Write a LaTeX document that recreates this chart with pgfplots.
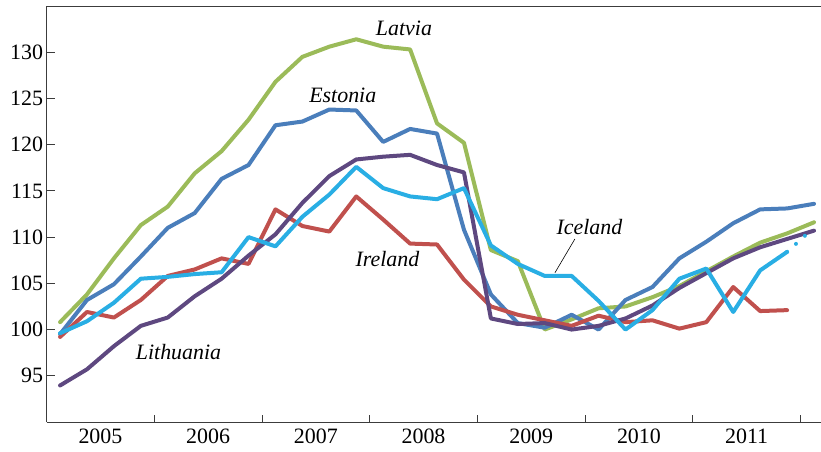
\documentclass[border=0pt]{standalone}
\usepackage{fontspec}
\setmainfont{Liberation Serif}
\usepackage{pgfplots}
\pgfplotsset{compat=1.18}
\definecolor{cLat}{RGB}{155,187,89}
\definecolor{cEst}{RGB}{74,126,187}
\definecolor{cIre}{RGB}{192,80,77}
\definecolor{cLit}{RGB}{94,72,128}
\definecolor{cIce}{RGB}{41,174,228}
\definecolor{axc}{RGB}{60,60,60}
\begin{document}
\begin{tikzpicture}
\begin{axis}[
 scale only axis, width=774.4bp, height=416bp,
 xmin=2005, xmax=2012.19, ymin=90, ymax=135,
 axis x line=box, axis y line=left,
 axis line style={draw=axc, line width=0.9bp},
 y axis line style={-},
 ytick={95,100,...,130},
 xtick={2005.5,2006.5,...,2011.5},
 xticklabels={2005,2006,2007,2008,2009,2010,2011},
 minor xtick={2006,2007,...,2012},
 major x tick style={draw=none},
 minor x tick style={draw=axc, line width=0.9bp},
 y tick style={draw=axc, line width=0.9bp},
 minor tick length=7bp,
 major tick length=8bp,
 tick align=inside,
 xtick pos=left, ytick pos=left,
 /pgf/number format/assume math mode=true,
 tick label style={font=\fontsize{22}{24}\selectfont},
 xticklabel style={yshift=-3bp},
 every axis plot/.append style={line width=4bp, line join=round, line cap=round, mark=none},
]
% Latvia
\addplot[cLat] coordinates {
(2005.125,100.8)(2005.375,103.8)(2005.625,107.7)(2005.875,111.3)
(2006.125,113.3)(2006.375,116.9)(2006.625,119.3)(2006.875,122.7)
(2007.125,126.8)(2007.375,129.5)(2007.625,130.6)(2007.875,131.4)
(2008.125,130.6)(2008.375,130.3)(2008.625,122.3)(2008.875,120.2)
(2009.125,108.6)(2009.375,107.4)(2009.625,100.0)(2009.875,101.1)
(2010.125,102.3)(2010.375,102.5)(2010.625,103.5)(2010.875,104.7)
(2011.125,106.3)(2011.375,107.9)(2011.625,109.4)(2011.875,110.4)
(2012.125,111.6)};
% Estonia
\addplot[cEst] coordinates {
(2005.125,99.5)(2005.375,103.2)(2005.625,104.9)(2005.875,107.9)
(2006.125,111.0)(2006.375,112.6)(2006.625,116.3)(2006.875,117.8)
(2007.125,122.1)(2007.375,122.5)(2007.625,123.8)(2007.875,123.7)
(2008.125,120.3)(2008.375,121.7)(2008.625,121.2)(2008.875,110.8)
(2009.125,103.8)(2009.375,100.7)(2009.625,100.2)(2009.875,101.6)
(2010.125,100.0)(2010.375,103.2)(2010.625,104.6)(2010.875,107.7)
(2011.125,109.5)(2011.375,111.5)(2011.625,113.0)(2011.875,113.1)
(2012.125,113.6)};
% Ireland
\addplot[cIre] coordinates {
(2005.125,99.2)(2005.375,101.9)(2005.625,101.3)(2005.875,103.2)
(2006.125,105.8)(2006.375,106.5)(2006.625,107.7)(2006.875,107.1)
(2007.125,113.0)(2007.375,111.2)(2007.625,110.6)(2007.875,114.4)
(2008.125,111.9)(2008.375,109.3)(2008.625,109.2)(2008.875,105.4)
(2009.125,102.5)(2009.375,101.6)(2009.625,101.0)(2009.875,100.4)
(2010.125,101.5)(2010.375,100.8)(2010.625,101.0)(2010.875,100.1)
(2011.125,100.8)(2011.375,104.6)(2011.625,102.0)(2011.875,102.1)};
% Lithuania
\addplot[cLit] coordinates {
(2005.125,93.95)(2005.375,95.7)(2005.625,98.2)(2005.875,100.4)
(2006.125,101.3)(2006.375,103.6)(2006.625,105.5)(2006.875,108.0)
(2007.125,110.3)(2007.375,113.7)(2007.625,116.6)(2007.875,118.4)
(2008.125,118.7)(2008.375,118.9)(2008.625,117.8)(2008.875,117.0)
(2009.125,101.2)(2009.375,100.6)(2009.625,100.7)(2009.875,100.0)
(2010.125,100.4)(2010.375,101.2)(2010.625,102.6)(2010.875,104.5)
(2011.125,106.1)(2011.375,107.7)(2011.625,108.9)(2011.875,109.8)
(2012.125,110.7)};
% Iceland
\addplot[cIce] coordinates {
(2005.125,99.6)(2005.375,100.9)(2005.625,102.9)(2005.875,105.5)
(2006.125,105.7)(2006.375,106.0)(2006.625,106.2)(2006.875,110.0)
(2007.125,109.0)(2007.375,112.2)(2007.625,114.6)(2007.875,117.6)
(2008.125,115.3)(2008.375,114.4)(2008.625,114.1)(2008.875,115.3)
(2009.125,109.1)(2009.375,107.1)(2009.625,105.8)(2009.875,105.8)
(2010.125,103.1)(2010.375,100.0)(2010.625,102.1)(2010.875,105.5)
(2011.125,106.6)(2011.375,101.9)(2011.625,106.4)(2011.875,108.4)};
\addplot[cIce, dash pattern=on 0bp off 12bp] coordinates {
(2011.875,108.4)(2012.042,110.16)};
% labels
\node[font=\fontsize{22}{24}\selectfont\itshape] at (axis cs:2008.318,132.6) {Latvia};
\node[font=\fontsize{22}{24}\selectfont\itshape] at (axis cs:2007.75,125.3) {Estonia};
\node[font=\fontsize{22}{24}\selectfont\itshape] at (axis cs:2008.165,107.6) {Ireland};
\node[font=\fontsize{22}{24}\selectfont\itshape] at (axis cs:2010.04,111.1) {Iceland};
\node[font=\fontsize{22}{24}\selectfont\itshape] at (axis cs:2006.225,97.6) {Lithuania};
\draw[line width=0.6bp, black] (axis cs:2009.72,106.15) -- (axis cs:2009.905,109.8);
\end{axis}
\pgfresetboundingbox
\path (-46.6bp,-30bp) rectangle (774.4bp,422bp);
\end{tikzpicture}
\end{document}
